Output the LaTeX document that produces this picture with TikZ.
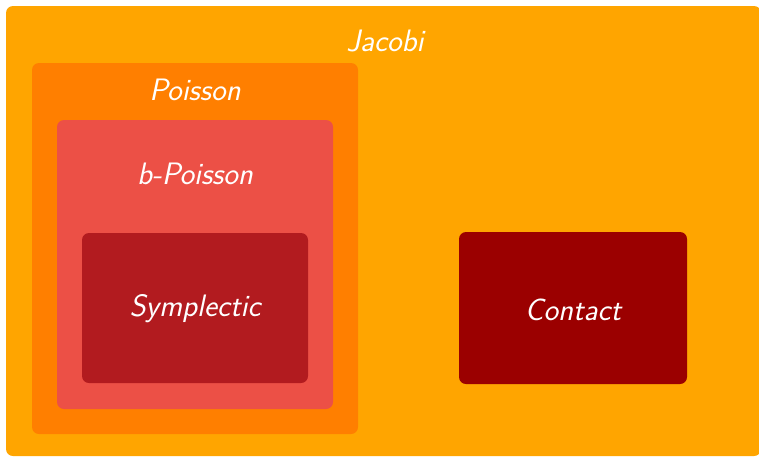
\documentclass[tikz,border=0pt]{standalone}
\begin{document}
\begin{tikzpicture}[x=1pt,y=-1pt,
  region/.style={rounded corners=7pt, draw=none, inner sep=0pt, outer sep=0pt},
  lbl/.style={text=white, font=\fontsize{31}{36}\selectfont\sffamily\itshape, inner sep=0pt}]
\useasboundingbox (0,0) rectangle (759,458);
\definecolor{cjac}{RGB}{255,165,0}
\definecolor{cpoi}{RGB}{255,127,0}
\definecolor{cbp}{RGB}{236,80,70}
\definecolor{csym}{RGB}{178,27,31}
\definecolor{ccon}{RGB}{155,0,0}
\node[region, fill=cjac, minimum width=755pt, minimum height=450pt] (jac) at (383.5,231) {};
\node[region, fill=cpoi, minimum width=326pt, minimum height=371pt] (poi) at (195,248.5) {};
\node[region, fill=cbp, minimum width=276pt, minimum height=289pt] (bp) at (195,264.5) {};
\node[region, fill=csym, minimum width=226pt, minimum height=150pt] (sym) at (195,308) {};
\node[region, fill=ccon, minimum width=228pt, minimum height=152pt] (con) at (573,308) {};
\node[lbl] (tjac) at (385,41) {Jacobi};
\node[lbl] (tpoi) at (195,90) {Poisson};
\node[lbl] (tbp) at (195,174) {b-Poisson};
\node[lbl] (tsym) at (195,309) {Symplectic};
\node[lbl] (tcon) at (573,310) {Contact};
\end{tikzpicture}
\end{document}
